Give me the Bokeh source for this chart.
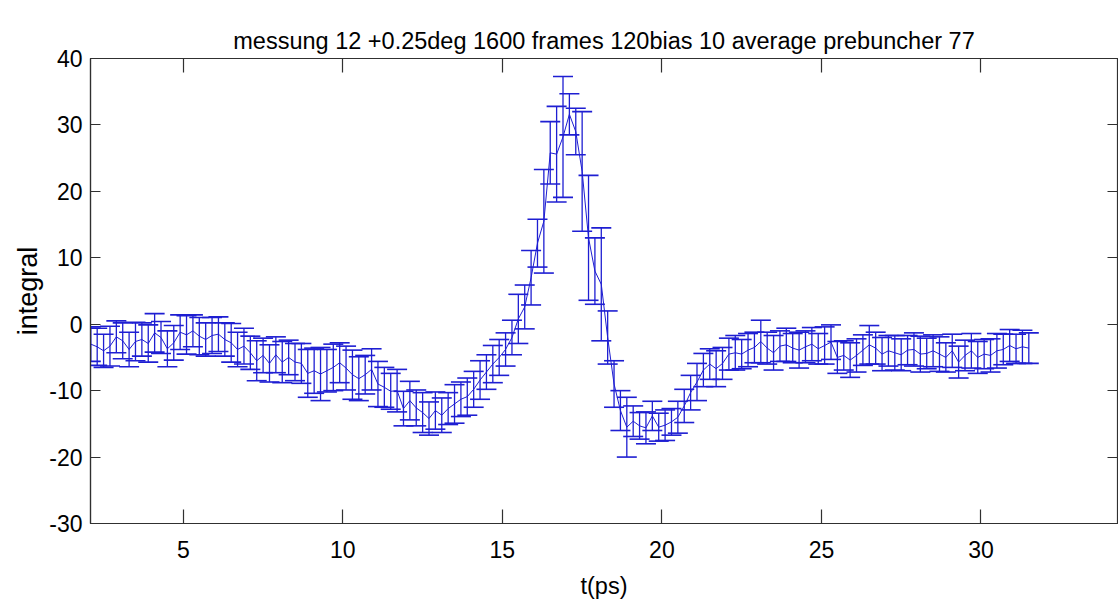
from bokeh.plotting import figure
from bokeh.models import ColumnDataSource, Whisker, TeeHead, LinearAxis, Range1d, FixedTicker
from bokeh.embed import file_html
from bokeh.resources import INLINE

t_ps = [
    2.1, 2.3, 2.5, 2.7, 2.9, 3.1, 3.3, 3.5, 3.7, 3.9,
    4.1, 4.3, 4.5, 4.7, 4.9, 5.1, 5.3, 5.5, 5.7, 5.9,
    6.1, 6.3, 6.5, 6.7, 6.9, 7.1, 7.3, 7.5, 7.7, 7.9,
    8.1, 8.3, 8.5, 8.7, 8.9, 9.1, 9.3, 9.5, 9.7, 9.9,
    10.1, 10.3, 10.5, 10.7, 10.9, 11.1, 11.3, 11.5, 11.7, 11.9,
    12.1, 12.3, 12.5, 12.7, 12.9, 13.1, 13.3, 13.5, 13.7, 13.9,
    14.1, 14.3, 14.5, 14.7, 14.9, 15.1, 15.3, 15.5, 15.7, 15.9,
    16.1, 16.3, 16.5, 16.7, 16.9, 17.1, 17.3, 17.5, 17.7, 17.9,
    18.1, 18.3, 18.5, 18.7, 18.9, 19.1, 19.3, 19.5, 19.7, 19.9,
    20.1, 20.3, 20.5, 20.7, 20.9, 21.1, 21.3, 21.5, 21.7, 21.9,
    22.1, 22.3, 22.5, 22.7, 22.9, 23.1, 23.3, 23.5, 23.7, 23.9,
    24.1, 24.3, 24.5, 24.7, 24.9, 25.1, 25.3, 25.5, 25.7, 25.9,
    26.1, 26.3, 26.5, 26.7, 26.9, 27.1, 27.3, 27.5, 27.7, 27.9,
    28.1, 28.3, 28.5, 28.7, 28.9, 29.1, 29.3, 29.5, 29.7, 29.9,
    30.1, 30.3, 30.5, 30.7, 30.9, 31.1, 31.3, 31.5,
]

integral = [
    -3.0, -3.4, -4.0, -3.3, -1.9, -2.5, -3.8, -2.6, -2.3, -2.9,
    -1.3, -2.0, -3.7, -2.8, -1.2, -1.6, -1.0, -1.8, -2.3, -1.7,
    -1.5, -2.3, -2.8, -3.8, -3.3, -4.3, -5.5, -4.7, -5.9, -4.6,
    -5.7, -5.0, -5.7, -5.9, -7.4, -7.0, -7.5, -7.0, -6.5, -5.8,
    -6.6, -7.6, -8.2, -7.6, -6.8, -9.0, -9.5, -10.1, -10.0, -12.7,
    -11.5, -12.6, -13.3, -14.2, -13.0, -13.7, -12.7, -12.0, -11.3, -10.9,
    -9.8, -8.4, -7.2, -6.0, -5.0, -3.8, -2.0, 0.8, 2.6, 7.0,
    12.2, 15.5, 25.8, 25.6, 28.2, 31.6, 29.0, 23.0, 13.0, 8.0,
    6.0, -2.0, -9.0, -13.0, -15.5, -14.6, -15.3, -15.6, -13.8, -15.5,
    -15.2, -14.7, -14.0, -12.3, -10.3, -8.7, -6.9, -6.0, -6.7, -5.9,
    -4.5, -4.3, -4.5, -3.9, -3.5, -2.6, -3.6, -4.3, -3.3, -3.1,
    -3.6, -3.9, -3.4, -3.0, -3.7, -3.2, -2.7, -5.0, -4.7, -5.4,
    -4.7, -3.9, -3.1, -3.6, -4.5, -4.0, -4.3, -4.6, -3.9, -3.8,
    -4.5, -4.4, -4.0, -4.5, -5.0, -4.0, -5.7, -4.7, -4.0, -5.0,
    -4.5, -4.7, -4.0, -3.8, -3.2, -3.7, -3.4, -3.6,
]

err = [
    2.6, 2.8, 2.5, 3.0, 2.4, 2.7, 2.6, 2.9, 2.5, 2.8,
    2.9, 2.4, 2.7, 2.6, 2.6, 2.9, 2.4, 2.8, 2.5, 2.7,
    2.6, 2.5, 2.9, 2.6, 2.7, 2.5, 3.0, 2.6, 2.8, 2.7,
    3.1, 2.6, 2.8, 3.0, 3.6, 3.4, 4.0, 3.2, 3.5, 3.0,
    3.3, 3.7, 3.3, 2.9, 3.1, 3.4, 3.0, 2.7, 3.2, 2.6,
    2.9, 2.7, 3.0, 2.5, 2.8, 2.6, 2.4, 2.9, 2.6, 2.8,
    2.7, 2.9, 2.6, 2.8, 2.7, 2.5, 2.6, 3.7, 3.3, 4.1,
    3.6, 7.8, 4.7, 7.2, 9.1, 3.1, 3.5, 9.0, 9.4, 5.0,
    8.5, 4.0, 3.5, 3.0, 4.5, 2.3, 2.0, 2.4, 2.2, 2.1,
    2.3, 2.0, 2.4, 2.5, 2.6, 2.8, 2.5, 2.3, 2.7, 2.4,
    2.4, 2.6, 2.2, 2.5, 2.3, 3.2, 2.4, 2.6, 2.3, 2.5,
    2.2, 2.7, 2.4, 2.5, 2.3, 2.8, 2.6, 2.4, 2.2, 2.6,
    2.5, 2.3, 2.9, 2.4, 2.5, 2.3, 2.6, 2.4, 2.2, 2.5,
    2.7, 2.3, 2.4, 2.6, 2.2, 2.5, 2.4, 2.3, 2.6, 2.4,
    2.2, 2.5, 2.6, 2.3, 2.4, 2.2, 2.5, 2.3,
]

x_ticks = [5, 10, 15, 20, 25, 30]
y_ticks = [-30, -20, -10, 0, 10, 20, 30, 40]
title_text = "messung 12 +0.25deg 1600 frames 120bias 10 average prebuncher 77"
x_label = "t(ps)"
y_label = "integral"

BLUE = "#1e1ed2"
AX = "#303030"
SANS = "'Liberation Sans', Arial, sans-serif"

src = ColumnDataSource(data=dict(
    t=t_ps, v=integral,
    lo=[a - b for a, b in zip(integral, err)],
    hi=[a + b for a, b in zip(integral, err)],
))

p = figure(width=1118, height=610, output_backend="svg", toolbar_location=None,
           x_range=Range1d(2.09, 34.28), y_range=Range1d(-30, 40),
           min_border_left=90, min_border_right=1, min_border_top=58, min_border_bottom=87)
p.title.text = title_text
p.title.align = "center"
p.title.text_font = SANS
p.title.text_font_size = "23.5px"
p.title.text_font_style = "normal"
p.title.text_color = "black"
p.title.standoff = 10

p.xgrid.visible = False
p.ygrid.visible = False
p.outline_line_color = AX
p.outline_line_width = 1.2
p.background_fill_color = "white"
p.border_fill_color = "white"

p.line("t", "v", source=src, line_color=BLUE, line_width=1)
wh = Whisker(base="t", lower="lo", upper="hi", source=src, dimension="height",
             line_color=BLUE, line_width=1.3,
             upper_head=TeeHead(size=20, line_color=BLUE, line_width=1.6),
             lower_head=TeeHead(size=20, line_color=BLUE, line_width=1.6))
p.add_layout(wh)

for ax in (p.xaxis[0], p.yaxis[0]):
    ax.major_label_text_font = SANS
    ax.major_label_text_font_size = "23px"
    ax.major_label_text_color = "black"
    ax.axis_line_color = AX
    ax.axis_line_width = 1.2
    ax.major_tick_line_color = AX
    ax.major_tick_line_width = 1.2
    ax.minor_tick_line_color = None
    ax.major_tick_out = 0
    ax.axis_label_text_font_style = "normal"
    ax.axis_label_text_color = "black"

p.xaxis[0].ticker = FixedTicker(ticks=x_ticks)
p.yaxis[0].ticker = FixedTicker(ticks=y_ticks)
p.yaxis[0].major_label_overrides = {tk: str(tk) for tk in y_ticks}
p.xaxis[0].major_tick_in = 14
p.yaxis[0].major_tick_in = 10
p.xaxis[0].major_label_standoff = 17
p.yaxis[0].major_label_standoff = 8
p.xaxis[0].axis_label = x_label
p.xaxis[0].axis_label_text_font = SANS
p.xaxis[0].axis_label_text_font_size = "23.5px"
p.xaxis[0].axis_label_standoff = 12
p.yaxis[0].axis_label = y_label
p.yaxis[0].axis_label_text_font = SANS
p.yaxis[0].axis_label_text_font_size = "27px"
p.yaxis[0].axis_label_standoff = 3

# box axes (top / right) with inward ticks and invisible labels, like a boxed axes
top = LinearAxis(ticker=FixedTicker(ticks=x_ticks), major_label_text_font_size="1px",
                 major_label_text_color=None, major_label_text_alpha=0,
                 major_tick_in=14, major_tick_out=0, minor_tick_line_color=None,
                 major_label_standoff=18, axis_line_color=AX, major_tick_line_color=AX,
                 major_tick_line_width=1.2)
right = LinearAxis(ticker=FixedTicker(ticks=y_ticks), major_label_text_font_size="1px",
                   major_label_text_color=None, major_label_text_alpha=0,
                   major_tick_in=10, major_tick_out=0, minor_tick_line_color=None,
                   major_label_standoff=0, axis_line_color=AX, major_tick_line_color=AX,
                   major_tick_line_width=1.2)
p.add_layout(top, "above")
p.add_layout(right, "right")

open("out.html", "w").write(file_html(p, INLINE))
